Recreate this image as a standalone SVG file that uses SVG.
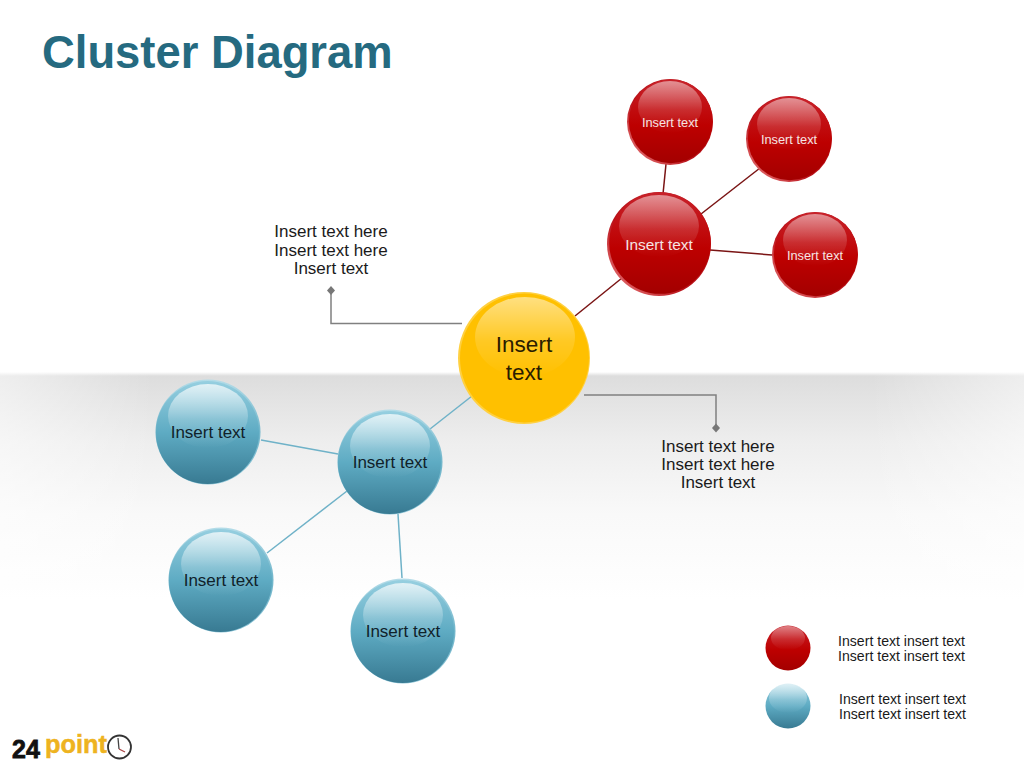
<svg xmlns="http://www.w3.org/2000/svg" width="1024" height="768" viewBox="0 0 1024 768">
<style>
text{font-family:"Liberation Sans",Arial,sans-serif;text-anchor:middle}
.t{font-size:17px;fill:#1a1a1a}
.s{font-size:12.800px;fill:#f6e4e4}
.m{font-size:15.400px;fill:#f6e4e4}
.b{font-size:17px;fill:#10222a}
.l{font-size:14.100px;fill:#1a1a1a}
.red{fill:url(#rg)}
.blue{fill:url(#bg)}
.hl{fill:url(#hg)}
.hr{fill:url(#hg);opacity:.7}
.rr{fill:url(#rrim)}
.br{fill:url(#brim)}
.cr{fill:none;stroke:#7a1414;stroke-width:1.500}
.cb{fill:none;stroke:#6fb2c8;stroke-width:1.500}
.cg{fill:none;stroke:#808080;stroke-width:1.500}
.d{fill:#777}
</style>
<defs>
<linearGradient id="rg" x1="0" y1="0" x2="0" y2="1"><stop offset="0" stop-color="#c8222a"/><stop offset=".55" stop-color="#bd0000"/><stop offset="1" stop-color="#a30000"/></linearGradient>
<linearGradient id="rrim" x1="0" y1="1" x2="1" y2="0"><stop offset=".1" stop-color="#e0686a"/><stop offset=".4" stop-color="#b81018"/><stop offset="1" stop-color="#c0262c"/></linearGradient>
<linearGradient id="bg" x1="0" y1="0" x2="0" y2="1"><stop offset="0" stop-color="#96cfe0"/><stop offset=".5" stop-color="#5eabc3"/><stop offset="1" stop-color="#387a92"/></linearGradient>
<linearGradient id="brim" x1="0" y1="0" x2="0" y2="1"><stop offset="0" stop-color="#b4dce8"/><stop offset=".5" stop-color="#6fb5ca"/><stop offset="1" stop-color="#8cc4d6"/></linearGradient>
<linearGradient id="hg" x1="0" y1="0" x2="0" y2="1"><stop offset="0" stop-color="#fff" stop-opacity=".72"/><stop offset=".55" stop-color="#fff" stop-opacity=".2"/><stop offset="1" stop-color="#fff" stop-opacity="0"/></linearGradient>
<linearGradient id="band" x1="0" y1="0" x2="0" y2="1"><stop offset="0" stop-color="#dddddd"/><stop offset=".3" stop-color="#eeeeee"/><stop offset=".62" stop-color="#f9f9f9"/><stop offset="1" stop-color="#fff"/></linearGradient>
<linearGradient id="side" x1="0" y1="0" x2="1" y2="0"><stop offset="0" stop-color="#fff" stop-opacity=".5"/><stop offset=".15" stop-color="#fff" stop-opacity="0"/><stop offset=".85" stop-color="#fff" stop-opacity="0"/><stop offset="1" stop-color="#fff" stop-opacity=".5"/></linearGradient>
<linearGradient id="edge" x1="0" y1="0" x2="0" y2="1"><stop offset="0" stop-color="#fff"/><stop offset="1" stop-color="#dddddd"/></linearGradient>
</defs>

<rect id="background" width="1024" height="768" fill="#fff"/>
<rect x="0" y="372" width="1024" height="4" fill="url(#edge)"/>
<rect x="0" y="376" width="1024" height="224" fill="url(#band)"/>
<rect x="0" y="372" width="1024" height="228" fill="url(#side)"/>

<text id="title" x="42" y="68" style="font-size:45.400px;font-weight:bold;fill:#256a80;text-anchor:start">Cluster Diagram</text>

<g id="connectors">
<path class="cr" d="M575 316L622 278"/>
<path class="cr" d="M663 194L666 164"/>
<path class="cr" d="M701 214L760 168"/>
<path class="cr" d="M710 250L772 255"/>
<path class="cb" d="M472 396L430 429"/>
<path class="cb" d="M261 440L338 454"/>
<path class="cb" d="M267 553L347 491"/>
<path class="cb" d="M398 514L402 578"/>
<path class="cg" d="M462 323.500H331V291"/>
<path class="cg" d="M584 395H716V428"/>
<path class="d" d="M331 286l4 4.500-4 4.500-4-4.500z"/>
<path class="d" d="M716 423.500l4 4.500-4 4.500-4-4.500z"/>
</g>

<g id="node-center">
<circle cx="524" cy="358" r="66" fill="#ffd040"/>
<circle cx="524.500" cy="358" r="64.500" fill="#ffc000"/>
<ellipse cx="525" cy="337" rx="50" ry="40" class="hl" opacity=".7"/>
<text x="524" y="352" style="font-size:22.500px;fill:#2a1c00">Insert</text>
<text x="524" y="380" style="font-size:22.500px;fill:#2a1c00">text</text>
</g>

<g id="node-red-hub">
<circle cx="659" cy="244" r="52" class="rr"/><circle cx="660" cy="243" r="50.800" class="red"/>
<ellipse cx="659" cy="226" rx="40" ry="31" class="hr"/>
<text x="659" y="250" class="m">Insert text</text>
</g>
<g id="node-red-1">
<circle cx="670" cy="122" r="43" class="rr"/><circle cx="670.800" cy="121.200" r="42" class="red"/>
<ellipse cx="670" cy="107" rx="32" ry="26" class="hr"/>
<text x="670" y="127" class="s">Insert text</text>
</g>
<g id="node-red-2">
<circle cx="789" cy="139" r="43" class="rr"/><circle cx="789.800" cy="138.200" r="42" class="red"/>
<ellipse cx="789" cy="124" rx="32" ry="26" class="hr"/>
<text x="789" y="144" class="s">Insert text</text>
</g>
<g id="node-red-3">
<circle cx="815" cy="255" r="43" class="rr"/><circle cx="815.800" cy="254.200" r="42" class="red"/>
<ellipse cx="815" cy="240" rx="32" ry="26" class="hr"/>
<text x="815" y="260" class="s">Insert text</text>
</g>

<g id="node-blue-hub">
<circle cx="390" cy="462" r="52.500" class="br"/><circle cx="389.500" cy="462.500" r="51.500" class="blue"/>
<ellipse cx="390" cy="446" rx="40" ry="32" class="hl"/>
<text x="390" y="467.500" class="b">Insert text</text>
</g>
<g id="node-blue-1">
<circle cx="208" cy="432" r="52.500" class="br"/><circle cx="207.500" cy="432.500" r="51.500" class="blue"/>
<ellipse cx="208" cy="416" rx="40" ry="32" class="hl"/>
<text x="208" y="437.500" class="b">Insert text</text>
</g>
<g id="node-blue-2">
<circle cx="221" cy="580" r="52.500" class="br"/><circle cx="220.500" cy="580.500" r="51.500" class="blue"/>
<ellipse cx="221" cy="564" rx="40" ry="32" class="hl"/>
<text x="221" y="585.500" class="b">Insert text</text>
</g>
<g id="node-blue-3">
<circle cx="403" cy="631" r="52.500" class="br"/><circle cx="402.500" cy="631.500" r="51.500" class="blue"/>
<ellipse cx="403" cy="615" rx="40" ry="32" class="hl"/>
<text x="403" y="636.500" class="b">Insert text</text>
</g>

<g id="callout-left">
<text x="331" y="237" class="t">Insert text here</text>
<text x="331" y="256" class="t">Insert text here</text>
<text x="331" y="274" class="t">Insert text</text>
</g>
<g id="callout-right">
<text x="718" y="452" class="t">Insert text here</text>
<text x="718" y="470" class="t">Insert text here</text>
<text x="718" y="488" class="t">Insert text</text>
</g>

<g id="legend-red">
<circle cx="788" cy="648" r="22.500" class="red"/>
<ellipse cx="788" cy="638" rx="17" ry="12" class="hl" opacity=".6"/>
<text x="901.500" y="646" class="l">Insert text insert text</text>
<text x="901.500" y="661" class="l">Insert text insert text</text>
</g>
<g id="legend-blue">
<circle cx="788" cy="706" r="22.500" class="blue"/>
<ellipse cx="788" cy="698" rx="19" ry="15" class="hl"/>
<text x="902.500" y="704" class="l">Insert text insert text</text>
<text x="902.500" y="719" class="l">Insert text insert text</text>
</g>

<g id="logo">
<text x="12" y="758" style="font-size:25px;font-weight:bold;fill:#111;text-anchor:start;stroke:#111;stroke-width:.8">24</text>
<text x="45" y="753" style="font-size:25px;font-weight:bold;fill:#eeb320;text-anchor:start;stroke:#eeb320;stroke-width:.5" textLength="62" lengthAdjust="spacingAndGlyphs">point</text>
<circle cx="119.500" cy="747" r="11.500" fill="#fff" stroke="#333" stroke-width="1.800"/>
<path d="M118 738L119 749" fill="none" stroke="#444" stroke-width="1.300"/>
<path d="M119 749L125 752" fill="none" stroke="#a44" stroke-width="1.300"/>
</g>
</svg>
